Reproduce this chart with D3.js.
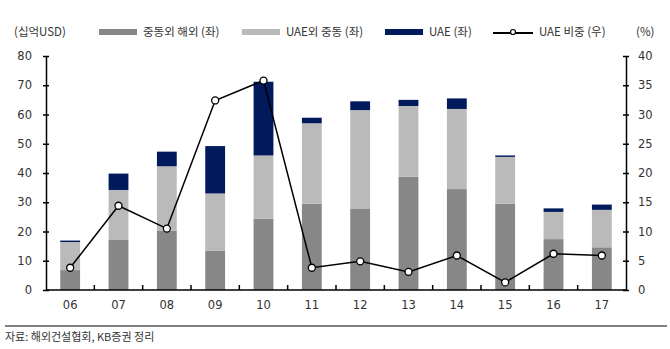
<!DOCTYPE html>
<html><head><meta charset="utf-8">
<script src="https://cdn.jsdelivr.net/npm/d3@7"></script>
<style>
html,body{margin:0;padding:0;background:#fff;}
svg{display:block;}
</style>
</head><body>
<svg id="c" width="670" height="349"></svg>
<script>
const years = ["06","07","08","09","10","11","12","13","14","15","16","17"];
const nonMiddleEast = [6.8,17.1,20.2,13.5,24.4,29.5,27.7,38.7,34.5,29.5,17.4,14.6];
const middleEastExUAE = [9.6,17.1,22.1,19.5,21.6,27.5,33.8,24.2,27.4,16.0,9.3,12.8];
const uae = [0.5,5.6,5.0,16.2,25.2,1.9,3.0,2.1,3.6,0.5,1.2,1.8];
const uaeShare = [3.8,14.4,10.5,32.4,35.8,3.8,4.9,3.1,5.9,1.3,6.2,5.9];
const leftTicks = [0,10,20,30,40,50,60,70,80];
const rightTicks = [0,5,10,15,20,25,30,35,40];
const seriesNames = ["중동외 해외 (좌)","UAE외 중동 (좌)","UAE (좌)","UAE 비중 (우)"];
const colors = ["#878787","#bababa","#001a5c"];

const svg = d3.select("#c");
const L = 46, R = 626, T = 56, B = 290;
const x = d3.scaleBand().domain(years).range([L,R]).paddingInner(0.59).paddingOuter(0.295);
const xb = d3.scaleBand().domain(years).range([L,R]);
const yL = d3.scaleLinear().domain([0,80]).range([B,T]);
const yR = d3.scaleLinear().domain([0,40]).range([B,T]);

const table = years.map((yr,i)=>({year:yr, a:nonMiddleEast[i], b:middleEastExUAE[i], c:uae[i]}));
const stack = d3.stack().keys(["a","b","c"])(table);

svg.append("g").selectAll("g").data(stack).join("g")
  .attr("fill",(d,i)=>colors[i])
  .selectAll("rect").data(d=>d).join("rect")
  .attr("x",d=>x(d.data.year))
  .attr("width",x.bandwidth())
  .attr("y",d=>yL(d[1]))
  .attr("height",d=>yL(d[0])-yL(d[1]));

// axes
const font = "DejaVu Sans, Verdana, sans-serif";
const gL = svg.append("g").attr("transform",`translate(${L},0)`)
  .call(d3.axisLeft(yL).tickValues(leftTicks).tickSize(3).tickSizeOuter(0).tickPadding(11));
gL.selectAll(".tick line").attr("x1",3).attr("x2",-3);
const gR = svg.append("g").attr("transform",`translate(${R},0)`)
  .call(d3.axisRight(yR).tickValues(rightTicks).tickSize(3).tickSizeOuter(0).tickPadding(9));
gR.selectAll(".tick line").attr("x1",-3).attr("x2",3);
[gL,gR].forEach(g=>{
  g.select(".domain").attr("stroke","#000").attr("stroke-width",1.5);
  g.selectAll(".tick line").attr("stroke","#000").attr("stroke-width",1.5);
  g.selectAll("text").attr("font-family",font).attr("font-size",11.5).attr("fill","#333");
});

// x axis
const gX = svg.append("g").attr("transform",`translate(0,${B})`);
gX.append("line").attr("x1",L).attr("x2",R).attr("stroke","#000").attr("stroke-width",1.5);
gX.selectAll("line.t").data(years.slice(1)).join("line").attr("class","t")
  .attr("x1",d=>xb(d)).attr("x2",d=>xb(d)).attr("y1",0).attr("y2",-5)
  .attr("stroke","#000").attr("stroke-width",1.5);
gX.selectAll("text").data(years).join("text")
  .attr("x",d=>x(d)+x.bandwidth()/2).attr("y",19)
  .attr("text-anchor","middle").attr("font-family",font).attr("font-size",11.5).attr("fill","#333")
  .text(d=>d);

// line
const cx = i=>x(years[i])+x.bandwidth()/2;
svg.append("path").datum(uaeShare)
  .attr("d",d3.line().x((d,i)=>cx(i)).y(d=>yR(d)))
  .attr("fill","none").attr("stroke","#000").attr("stroke-width",1.5);
svg.append("g").selectAll("circle").data(uaeShare).join("circle")
  .attr("cx",(d,i)=>cx(i)).attr("cy",d=>yR(d)).attr("r",3.5)
  .attr("fill","#fff").attr("stroke","#000").attr("stroke-width",1.3);

// legend
const kfont = "'Noto Sans CJK KR', sans-serif";
const ly = 32;
svg.append("text").attr("x",14).attr("y",ly+4).attr("font-family",kfont).attr("font-size",11.5).attr("fill","#333").text("(십억USD)");
svg.append("text").attr("x",636).attr("y",ly+4).attr("font-family",kfont).attr("font-size",11.5).attr("fill","#333").text("(%)");
const legX = [99,242,385];
legX.forEach((lx,i)=>{
  svg.append("rect").attr("x",lx).attr("y",ly-3).attr("width",38).attr("height",6).attr("fill",colors[i]);
  svg.append("text").attr("x",lx+44).attr("y",ly+4).attr("font-family",kfont).attr("font-size",11.5).attr("fill","#333").text(seriesNames[i]);
});
svg.append("line").attr("x1",493).attr("x2",533).attr("y1",ly+1).attr("y2",ly+1).attr("stroke","#000").attr("stroke-width",2);
svg.append("circle").attr("cx",513).attr("cy",ly).attr("r",2.5).attr("fill","#fff").attr("stroke","#000").attr("stroke-width",1.2);
svg.append("text").attr("x",539).attr("y",ly+4).attr("font-family",kfont).attr("font-size",11.5).attr("fill","#333").text(seriesNames[3]);

// footer
svg.append("line").attr("x1",5).attr("x2",667).attr("y1",326).attr("y2",326).attr("stroke","#000").attr("stroke-width",1);
svg.append("text").attr("x",5).attr("y",341).attr("font-family",kfont).attr("font-size",11).attr("fill","#333").text("자료: 해외건설협회, KB증권 정리");
</script>
</body></html>
